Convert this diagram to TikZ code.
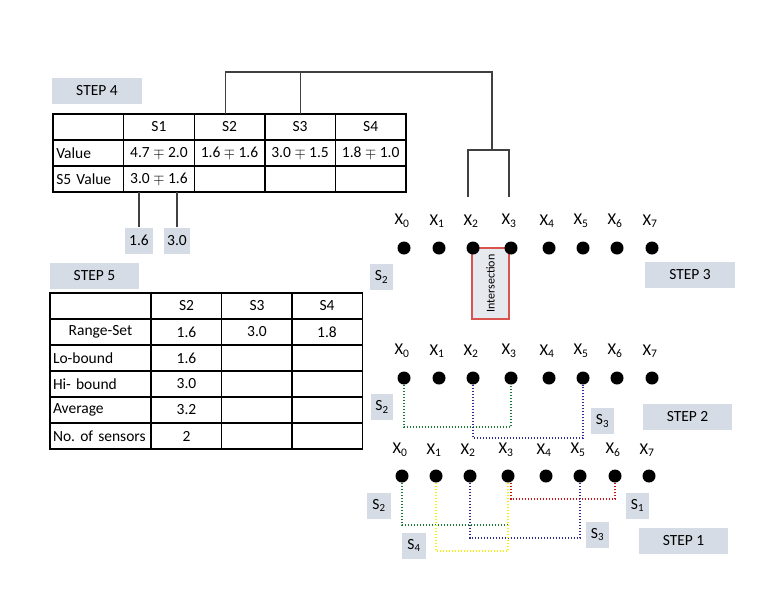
\documentclass[tikz,border=0pt]{standalone}
\usepackage{fontspec}
\setmainfont{Carlito}
\usetikzlibrary{calc, positioning}
\definecolor{tagblue}{HTML}{D6DCE5}
\definecolor{pathgreen}{HTML}{1F7A3A}
\definecolor{pathnavy}{HTML}{2F2C8E}
\definecolor{pathred}{HTML}{C81414}
\definecolor{pathyellow}{HTML}{F5F000}
\definecolor{interred}{HTML}{D9534F}
\tikzset{
    dot/.style = {circle, fill=black, inner sep=0pt, minimum size=13pt},
    xlab/.style = {inner sep=1pt, font=\fontsize{16.5}{18}\selectfont},
    tagbox/.style = {fill=tagblue, minimum height=26pt, inner sep=0pt, font=\fontsize{15.5}{18}\selectfont},
    cellbox/.style = {draw, line width=1.4pt, inner sep=3pt, outer sep=0pt, minimum width=70.6pt, minimum height=26pt, font=\fontsize{15.5}{18}\selectfont},
    leftcell/.style = {text width=#1, align=left},
    link/.style = {draw=black!75, line width=1.1pt},
    trail/.style = {line width=1.6pt, dash pattern=on 1.6pt off 1.4pt},
    interbox/.style = {draw=interred, line width=1.2pt, fill=tagblue!60, minimum width=37pt, minimum height=71pt, inner sep=0pt}
}
\newcommand{\drawT}[5]{
    \node[tagbox, minimum width=#3] (#5) at (#1,#2) {#4};
}

\begin{document}
\begin{tikzpicture}[x=1pt, y=-1pt]
        \useasboundingbox (0,0) rectangle (776,600);
        \fill[white] (0,0) rectangle (776,600);
        % Step 4 table
        \drawT{97}{91}{90pt}{STEP 4}{t4}
        \node[cellbox, leftcell=64pt] (a0) at (88.3,127) {};
        \node[cellbox, leftcell=64pt] (b0) at (88.3,153) {Value};
        \node[cellbox, leftcell=64pt] (c0) at (88.3,179) {S5 Value};
        \foreach \h/\v/\w [count=\c] in {S1/4.7 $\mp$ 2.0/3.0 $\mp$ 1.6, S2/1.6 $\mp$ 1.6/{}, S3/3.0 $\mp$ 1.5/{}, S4/1.8 $\mp$ 1.0/{}}{
            \node[cellbox] (a\c) at (88.3+70.6*\c,127) {\h};
            \node[cellbox] (b\c) at (88.3+70.6*\c,153) {\v};
            \node[cellbox] (c\c) at (88.3+70.6*\c,179) {\w};
        }
        \drawT{139}{240.5}{28pt}{1.6}{lo}
        \drawT{177}{240.5}{26pt}{3.0}{hi}
        \draw[link] (lo.north) -- (lo.north |- c1.south);
        \draw[link] (hi.north) -- (hi.north |- c1.south);
        % Links to step 3
        \coordinate (top) at (492,72);
        \coordinate (fork) at (492,150);
        \coordinate (leg2) at (468,197);
        \coordinate (leg3) at (509,197);
        \draw[link] ([xshift=-4pt]a2.north) |- (top) -- (fork);
        \draw[link] (a3.north) -- (a3.north |- top);
        \draw[link] (leg2) |- (fork) -| (leg3);
        % Step 5 table
        \drawT{94.5}{275.5}{89pt}{STEP 5}{t5}
        \node[cellbox, minimum width=101pt] (g0) at (100.5,306) {};
        \node[cellbox, minimum width=101pt] (g1) at (100.5,332) {Range-Set};
        \foreach \t [count=\r from 2] in {Lo-bound, Hi- bound, Average, No.\ of sensors}
            \node[cellbox, minimum width=101pt, leftcell=95pt] (g\r) at (100.5,306+26*\r) {\t};
        \foreach \x/\vals [count=\c] in {186.5/{S2,1.6,1.6,3.0,3.2,2}, 257/{S3,3.0,{},{},{},{}}, 327/{S4,1.8,{},{},{},{}}}
            \foreach \t [count=\r from 0] in \vals
                \node[cellbox, minimum width=70.5pt] (g\r-\c) at (\x,306+26*\r) {\t};
        % Step 3
        \node[interbox] (isect) at (490.5,283.5) {};
        \node[rotate=90, font=\fontsize{12}{14}\selectfont] (isectlab) at (isect) {Intersection};
        \foreach \x [count=\i from 0] in {404,439,473,511,549,583,617,652}{
            \node[dot] (int\i) at (\x,248) {};
            \node[xlab] (lint\i) at (\x-2,221) {X\textsubscript{\i}};
            \node[dot] (two\i) at (\x,378) {};
            \node[xlab] (ltwo\i) at (\x-2,351) {X\textsubscript{\i}};
        }
        \foreach \x [count=\i from 0] in {402,436,470,508,546,580,615,649}{
            \node[dot] (one\i) at (\x,476) {};
            \node[xlab] (lone\i) at (\x-2,450) {X\textsubscript{\i}};
        }
        \drawT{381.5}{277}{23pt}{S\textsubscript{2}}{s2c}
        \drawT{690}{275}{90pt}{STEP 3}{t3}
        % Step 2
        \drawT{382}{407}{22pt}{S\textsubscript{2}}{s2b}
        \drawT{602.5}{421}{23pt}{S\textsubscript{3}}{s3b}
        \drawT{687.5}{416.5}{89pt}{STEP 2}{t2}
        \draw[trail, pathgreen] (two0.south) -- ([yshift=-49pt]two0.center) -| (two3.south);
        \draw[trail, pathnavy] (two2.south) -- ([yshift=-60pt]two2.center) -| (two5.south);
        % Step 1
        \drawT{379}{505.5}{24pt}{S\textsubscript{2}}{s2a}
        \drawT{414}{545.5}{24pt}{S\textsubscript{4}}{s4a}
        \drawT{637.5}{505.5}{23pt}{S\textsubscript{1}}{s1a}
        \drawT{597.5}{534.5}{23pt}{S\textsubscript{3}}{s3a}
        \drawT{683.5}{541}{89pt}{STEP 1}{t1}
        \draw[trail, pathgreen] (one0.south) -- ([yshift=-49pt]one0.center) -| (one3.south);
        \draw[trail, pathred] ([xshift=3pt]one3.south) -- ([xshift=3pt,yshift=-23pt]one3.center) -| (one6.south);
        \draw[trail, pathnavy] (one2.south) -- ([yshift=-62pt]one2.center) -| (one5.south);
        \draw[trail, pathyellow] (one1.south) -- ([yshift=-75pt]one1.center) -| (one3.south);
    \end{tikzpicture}
\end{document}
